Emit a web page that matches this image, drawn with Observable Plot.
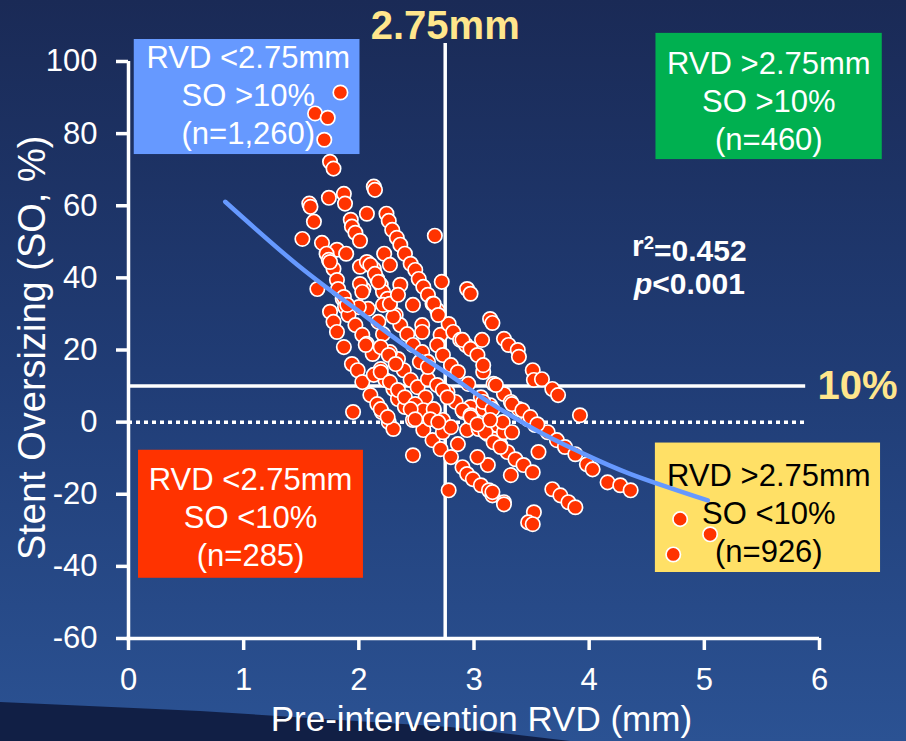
<!DOCTYPE html>
<html><head><meta charset="utf-8">
<script src="https://cdn.jsdelivr.net/npm/d3@7"></script>
<script src="https://cdn.jsdelivr.net/npm/@observablehq/plot@0.6"></script>
<style>
html,body{margin:0;padding:0;width:906px;height:741px;overflow:hidden;}
body{position:relative;background:linear-gradient(180deg,#1a2a56 0%,#203c75 50%,#2b5293 100%);font-family:"Liberation Sans",Arial,sans-serif;}
#swoosh{position:absolute;left:0;top:0;width:906px;height:741px;background:#111f45;clip-path:polygon(0 702px,200px 711px,450px 727px,570px 741px,0 741px);}
#chart{position:absolute;left:0;top:0;}
</style></head>
<body><div id="swoosh"></div><div id="chart"></div>
<script>
// Pre-intervention RVD (mm)
const rvd = [
1.84,1.62,1.73,1.70,1.75,1.78,2.13,2.14,1.57,1.58,
1.74,1.87,1.88,1.61,1.51,2.07,2.24,2.26,1.93,1.94,
1.97,2.01,1.68,2.29,2.33,2.36,2.40,2.66,1.81,1.89,
1.72,1.74,1.78,2.01,2.07,2.13,2.22,2.27,2.45,2.49,
2.52,2.56,2.60,2.64,2.68,2.72,2.94,2.97,3.14,3.16,
1.64,1.81,1.82,1.86,1.88,2.36,2.04,2.01,2.16,2.19,
2.21,2.25,2.27,2.32,2.36,2.42,2.47,2.55,2.55,2.08,
2.00,1.75,1.78,1.81,1.91,1.97,2.03,2.07,2.17,2.21,
1.87,2.71,2.69,2.78,2.82,2.88,2.93,3.07,3.26,3.30,
3.38,1.94,1.99,2.03,2.12,2.19,2.23,2.13,2.10,2.16,
2.20,2.26,2.30,1.95,2.30,2.34,2.40,2.47,2.56,2.64,
2.71,2.47,2.78,2.39,2.45,2.51,2.58,2.65,2.73,2.73,
2.80,2.34,2.27,2.47,2.55,2.60,2.60,2.68,2.77,2.84,
2.91,2.99,2.94,3.04,3.12,3.17,3.23,3.29,3.36,3.43,
2.68,2.73,2.80,2.86,2.95,3.06,2.97,3.08,3.14,3.20,
3.26,2.86,2.90,2.94,2.99,3.06,3.13,3.16,3.12,3.26,
3.39,3.17,3.26,3.32,3.39,3.32,2.80,3.03,2.06,3.51,
3.52,3.59,3.68,3.73,3.92,3.08,3.19,3.33,3.47,3.53,
3.64,3.72,3.79,3.88,3.98,4.03,4.16,4.27,4.36,3.14,
3.25,3.33,3.10,3.17,3.23,3.51,3.56,3.16,3.26,3.68,
3.75,3.82,3.88,3.52,3.47,3.51,4.79,5.05,4.73,2.30,
2.65,2.69,2.90,2.97,3.03,3.08,2.19,2.26,2.32,2.19,
2.27,2.34,2.40,2.49,2.56,2.65,2.53,2.60,2.73,2.77,
2.90,2.97,3.42,3.49,3.55,3.08,3.16,2.19,2.25,2.45,
2.49,2.62,2.69,2.97,3.03,3.14,1.75,1.87,1.90,2.10,
2.14,2.17,2.03,2.21,2.27,2.34
];
// Stent oversizing (%)
const so = [
91.4,85.6,84.4,78.3,72.2,70.3,65.3,64.4,60.6,59.7,
62.2,63.3,60.6,55.6,50.8,57.8,57.8,55.8,56.1,54.2,
52.5,50.3,49.7,53.3,51.1,49.2,46.7,51.7,47.8,46.7,
46.7,45.0,42.5,43.1,44.4,42.5,46.7,43.6,43.9,42.2,
39.7,37.5,35.3,32.8,31.1,38.9,36.9,35.6,28.6,27.5,
36.9,39.4,36.9,34.2,31.9,38.1,36.9,38.3,39.7,38.1,
36.1,34.2,32.5,29.7,26.9,24.4,32.5,26.9,25.0,31.4,
31.9,30.6,27.8,25.0,29.7,26.9,24.2,21.7,27.8,24.4,
20.8,24.2,21.4,27.2,25.0,22.8,21.4,22.8,23.1,21.4,
20.0,16.1,14.4,11.1,18.9,14.7,11.7,13.1,7.5,5.0,
2.8,0,-1.9,2.8,9.2,6.4,4.2,0.6,-2.2,-5.0,
-7.5,-9.2,-18.9,14.4,11.7,9.7,6.9,3.3,0.6,-2.8,
-1.4,17.5,19.4,21.4,19.4,16.7,11.9,10.3,8.3,5.6,
2.8,0.6,-2.2,-1.9,-3.3,-4.7,-6.4,-8.3,-10.3,-11.9,
21.4,18.6,15.8,13.9,10.6,6.9,4.2,3.6,0.8,-0.8,
-2.8,-6.1,-12.5,-14.4,-15.8,-17.5,-18.9,-20.3,-11.9,-22.2,
18.1,10.6,7.8,5.6,3.6,-14.7,-9.7,-9.7,21.4,14.4,
11.7,11.9,9.2,7.5,1.9,13.9,10.3,5.0,0.8,-0.8,
-2.8,-5.0,-6.9,-8.9,-11.7,-13.1,-16.7,-17.5,-18.9,4.7,
0,-2.8,-2.8,-5.6,-6.9,-13.9,-8.3,-19.4,-22.8,-18.6,
-20.3,-22.2,-23.6,-25.0,-27.8,-28.3,-26.9,-31.1,-36.7,29.2,
32.8,29.7,22.8,20.3,18.6,15.8,20.8,18.6,16.1,13.9,
11.1,8.9,6.9,5.0,3.3,3.6,16.7,15.3,8.9,6.9,
3.3,1.9,3.3,1.4,-0.6,5.6,3.6,3.6,1.4,3.6,
0.8,0.8,0,1.4,-0.6,0.6,44.4,34.7,32.5,43.6,
41.1,38.9,36.1,32.5,32.8,35.3
];
// Fitted regression curve
const fitRvd = [0.84,1.49,2.01,2.39,2.80,3.06,3.52,3.92,4.36,5.03];
const fitSo  = [61.1,43.0,30.5,21.5,12.8,7.0,-1.9,-8.3,-14.4,-21.7];
// Ticks
const xTicks = [0,1,2,3,4,5,6];
const yTicks = [-60,-40,-20,0,20,40,60,80,100];
// Cut-offs
const cutRvd = 2.75;
const cutSo = 10;
// Quadrant labels
const quadTitle = ["RVD <2.75mm","RVD >2.75mm","RVD <2.75mm","RVD >2.75mm"];
const quadSO = ["SO >10%","SO >10%","SO <10%","SO <10%"];
const quadN = ["(n=1,260)","(n=460)","(n=285)","(n=926)"];
const statLines = ["r2=0.452","p<0.001"];

// layout (annotation placement, data units)
const boxLayout = [
  {x1:0.05, x2:2.01, y1:74.2, y2:106.1, cx:1.04, cy:91.0, fill:"#6699ff", color:"white"},
  {x1:4.58, x2:6.545, y1:72.8, y2:107.8, cx:5.56, cy:89.3, fill:"#00b050", color:"white"},
  {x1:0.087, x2:2.04, y1:-43.3, y2:-7.8, cx:1.06, cy:-26.0, fill:"#ff3300", color:"white"},
  {x1:4.575, x2:6.53, y1:-41.7, y2:-5.8, cx:5.56, cy:-24.9, fill:"#ffe066", color:"black"}
];
const boxes = boxLayout.map((b,i)=>({...b, text: [quadTitle[i], quadSO[i], quadN[i]].join("\n")}));
const pts = rvd.map((x,i)=>({x, y: so[i]}));
const fit = fitRvd.map((x,i)=>({x, y: fitSo[i]}));

const font = "Liberation Sans, Arial, sans-serif";
const plot = Plot.plot({
  width: 906, height: 741,
  marginLeft: 128, marginRight: 87, marginTop: 61, marginBottom: 103,
  style: {background: "transparent", color: "white", fontFamily: font, overflow: "visible"},
  x: {domain: [0, 6], label: null},
  y: {domain: [-60, 100], label: null},
  marks: [
    Plot.rect(boxes, {x1:"x1", x2:"x2", y1:"y1", y2:"y2", fill:"fill"}),
    Plot.text(boxes, {x:"cx", y:"cy", text:"text", fill:"color", fontSize:31, lineHeight:1.22}),
    Plot.ruleX([cutRvd], {y1:-60, y2:105, stroke:"white", strokeWidth:3.5}),
    Plot.ruleY([cutSo], {x1:0, x2:5.88, stroke:"white", strokeWidth:3.5}),
    Plot.ruleY([0], {x1:0, x2:5.88, stroke:"white", strokeWidth:3.5, strokeDasharray:"4,4"}),
    Plot.ruleX([0], {y1:-60, y2:100, stroke:"white", strokeWidth:3.5}),
    Plot.ruleY([-60], {x1:-0.015, x2:6, stroke:"white", strokeWidth:3.5}),
    Plot.axisX({ticks: xTicks, tickFormat: d => String(d), tickSize: 12, tickPadding: 17, fontSize: 31, strokeWidth: 3.5, label: null}),
    Plot.axisY({ticks: yTicks, tickFormat: d => String(d), tickSize: 12, tickPadding: 19, fontSize: 31, strokeWidth: 3.5, label: null}),
    Plot.dot(pts, {x:"x", y:"y", r:7.2, fill:"#ff3300", stroke:"white", strokeWidth:1.7}),
    Plot.line(fit, {x:"x", y:"y", curve:"natural", stroke:"#6699ff", strokeWidth:4.5}),
    Plot.text(["2.75mm"], {x: cutRvd, y: 109.7, text: d => d, fill:"#ffe68c", fontSize: 40, fontWeight:"bold"}),
    Plot.text(["10%"], {x: 6.33, y: cutSo, text: d => d, fill:"#ffe68c", fontSize: 40, fontWeight:"bold"}),
    Plot.text(statLines, {x: 4.87, y: (d,i) => [48.6, 38.3][i], text: d => d, fill:"white", fontSize: 30, fontWeight:"bold"}),
    Plot.text(["Pre-intervention RVD (mm)"], {x: 3.064, y: -82.6, text: d => d, fill:"white", fontSize: 35}),
    Plot.text(["Stent Oversizing (SO, %)"], {x: -0.83, y: 20.6, text: d => d, fill:"white", fontSize: 38, rotate: -90})
  ]
});
document.getElementById("chart").appendChild(plot);

// rich text for the statistics
d3.select(plot).selectAll("text").each(function(){
  const t = d3.select(this);
  const s = this.textContent;
  if (s === "r2=0.452") {
    t.text(null);
    t.append("tspan").text("r");
    t.append("tspan").attr("dy","-0.42em").attr("font-size","62%").text("2");
    t.append("tspan").attr("dy","0.42em").text("=0.452");
  } else if (s === "p<0.001") {
    t.text(null);
    t.append("tspan").attr("font-style","italic").text("p");
    t.append("tspan").text("<0.001");
  }
});
</script>
</body></html>
